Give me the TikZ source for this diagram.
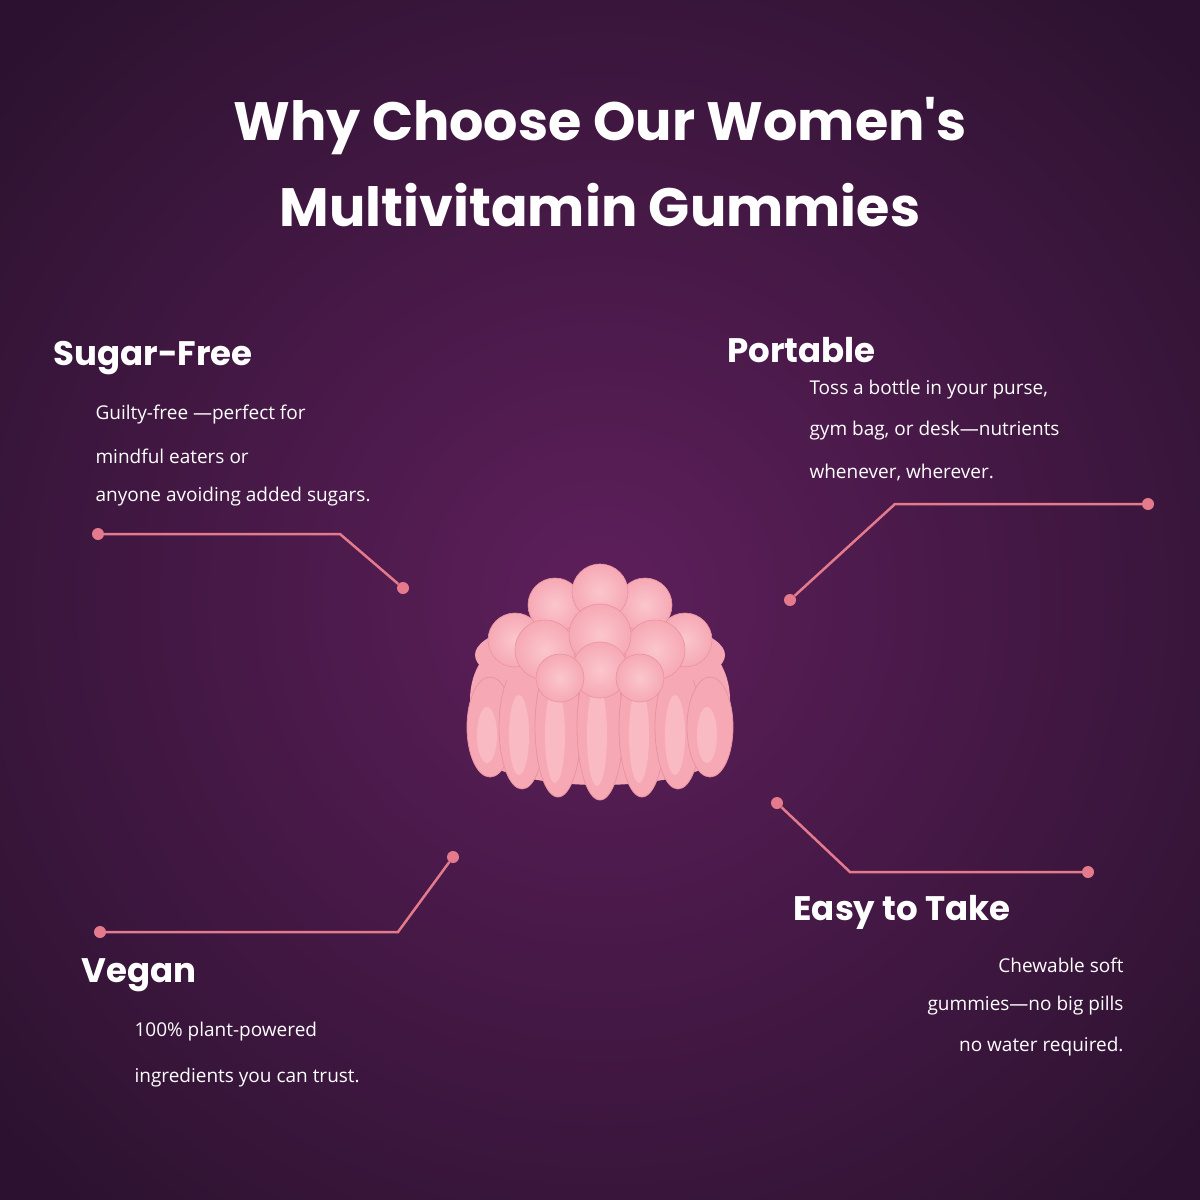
\documentclass[tikz,border=0pt]{standalone}
\usepackage{fontspec}
\setmainfont{Open Sans}
\newfontfamily\headfont{Poppins}[UprightFont=* Bold]
\definecolor{bgin}{HTML}{5E1F5B}
\definecolor{bgout}{HTML}{2C1230}
\definecolor{linepink}{HTML}{E57A8C}
\definecolor{gumlight}{HTML}{FBC6CD}
\definecolor{gummid}{HTML}{F6A9B5}
\definecolor{gumdark}{HTML}{E993A2}
\tikzset{
  head/.style={anchor=west, text=white, font=\headfont\fontsize{34}{38}\selectfont},
  body/.style={anchor=west, text=white, font=\fontsize{19}{23}\selectfont},
  lead/.style={draw=linepink, line width=2.5pt},
  dot/.style={circle, fill=linepink, inner sep=0pt, minimum size=12pt},
  lobe/.style={fill=gummid, draw=gumdark, line width=0.8pt},
  bump/.style={inner color=gumlight, outer color=gummid, draw=gumdark, line width=0.6pt},
}
\begin{document}
\begin{tikzpicture}[x=1pt,y=-1pt]
  \useasboundingbox (0,0) rectangle (1200,1200);
  \shade[inner color=bgin, outer color=bgout] (-200,-200) rectangle (1400,1400);

  % title
  \node[text=white, align=center, font=\headfont\fontsize{54}{86}\selectfont]
    (title) at (600,162) {Why Choose Our Women's\\Multivitamin Gummies};

  % gummy
  \fill[gummid] (470,700) .. controls (470,580) and (730,580) .. (730,700)
    -- (730,740) .. controls (730,800) and (470,800) .. (470,740) -- cycle;
  \foreach \x/\h in {490/50,522/62,558/70,600/73,642/70,678/62,710/50}
    \draw[lobe] (\x,727) ellipse (23 and \h);
  \foreach \x/\h in {490/50,522/62,558/70,600/73,642/70,678/62,710/50}
    \fill[gumlight, opacity=0.6] (\x-3,735) ellipse (10 and \h-22);
  \fill[gummid] (600,655) ellipse (125 and 38);
  \foreach \x/\y/\r in {515/640/27,685/640/27,555/605/27,645/605/27,600/592/28,
                        545/650/30,655/650/30,600/635/31,600/670/28,560/678/24,640/678/24}
    \shade[bump] (\x,\y) circle (\r);

  % sugar-free
  \node[head] (sugar) at (50,358) {Sugar-Free};
  \node[body] (sugar1) at (92,415) {Guilty-free —perfect for};
  \node[body] (sugar2) at (92,456) {mindful eaters or};
  \node[body] (sugar3) at (92,497) {anyone avoiding added sugars.};
  \node[dot] (sa) at (98,534) {};
  \coordinate (sk) at (340,534);
  \node[dot] (sb) at (403,588) {};
  \draw[lead] (sa) -- (sk) -- (sb);

  % portable
  \node[head] (port) at (724,350) {Portable};
  \node[body] (port1) at (806,390) {Toss a bottle in your purse,};
  \node[body] (port2) at (806,431) {gym bag, or desk—nutrients};
  \node[body] (port3) at (806,472) {whenever, wherever.};
  \node[dot] (pa) at (1148,504) {};
  \coordinate (pk) at (895,504);
  \node[dot] (pb) at (790,600) {};
  \draw[lead] (pa) -- (pk) -- (pb);

  % easy to take
  \node[head] (easy) at (790,912) {Easy to Take};
  \node[body, anchor=east] (easy1) at (1127,965) {Chewable soft};
  \node[body, anchor=east] (easy2) at (1127,1006) {gummies—no big pills};
  \node[body, anchor=east] (easy3) at (1127,1047) {no water required.};
  \node[dot] (ea) at (777,803) {};
  \coordinate (ek) at (850,872);
  \node[dot] (eb) at (1088,872) {};
  \draw[lead] (ea) -- (ek) -- (eb);

  % vegan
  \node[head] (vegan) at (78,975) {Vegan};
  \node[body] (vegan1) at (131,1032) {100\% plant-powered};
  \node[body] (vegan2) at (131,1078) {ingredients you can trust.};
  \node[dot] (va) at (100,932) {};
  \coordinate (vk) at (398,932);
  \node[dot] (vb) at (453,857) {};
  \draw[lead] (va) -- (vk) -- (vb);
\end{tikzpicture}
\end{document}
